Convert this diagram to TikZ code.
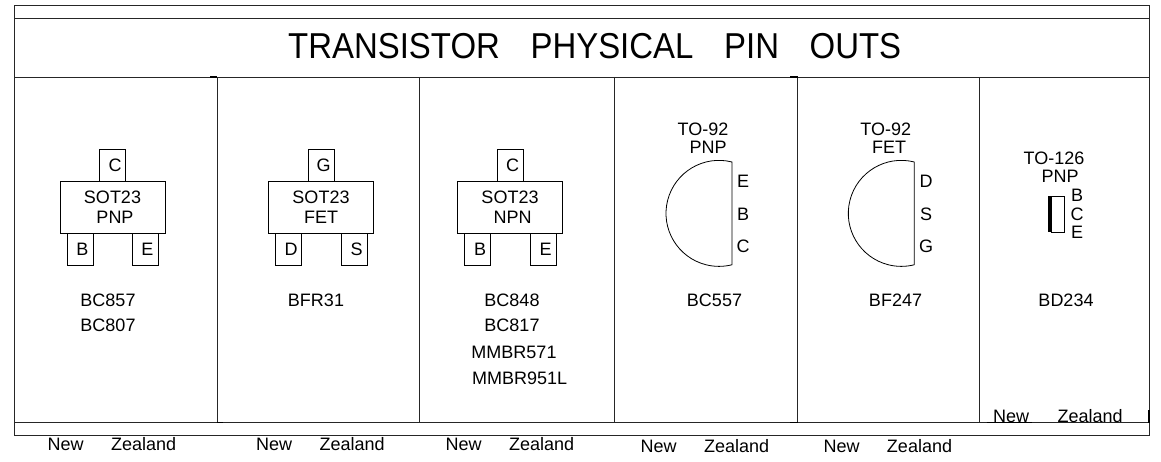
\documentclass[tikz,border=0pt]{standalone}
\usepackage{fontspec}
\setmainfont{Liberation Sans}
\usepackage{xcolor}
\usepackage{tikz}

\tikzset{
  framestyle/.style={line width=0.9pt,black!85},
  bodybox/.style={draw,line width=0.8pt,minimum width=105pt,minimum height=52pt,inner sep=0pt,align=center,font=\fontsize{18}{20}\selectfont},
  pinbox/.style={draw,line width=0.8pt,minimum width=26pt,minimum height=32pt,inner sep=0pt,font=\fontsize{18}{20}\selectfont,execute at begin node=\hspace*{5pt}},
  letterlabel/.style={anchor=base,inner sep=0pt,font=\fontsize{18}{20}\selectfont},
  nzlabel/.style={anchor=base west,inner sep=0pt,font=\fontsize{18}{20}\selectfont},
}

\begin{document}
\begin{tikzpicture}[x=1pt,y=-1pt]
  \useasboundingbox (0,0) rectangle (1161,462);

  % Corners of the outer frame
  \coordinate (TL) at (14.5,5.5);
  \coordinate (TR) at (1149,5.5);
  \coordinate (BL) at (14.5,435.5);
  \coordinate (BR) at (1149,435.5);

  % Draw frame and the horizontal rules
  \draw[framestyle] (TL) -- (TR) -- (BR) -- (BL) -- cycle;
  \draw[framestyle] (14.5,18.5) -- (1149,18.5);
  \draw[framestyle] (14.5,77) -- (1149,77);
  \draw[framestyle] (14.5,422.5) -- (1149,422.5);

  % Column dividers
  \draw[framestyle] (217,77) -- (217,422.5);
  \draw[framestyle] (419,77) -- (419,422.5);
  \draw[framestyle] (614.5,77) -- (614.5,422.5);
  \draw[framestyle] (797.5,77) -- (797.5,422.5);
  \draw[framestyle] (979.5,77) -- (979.5,422.5);

  % Small heavy stubs on the rules
  \draw[line width=1.3pt] (210,77) -- (217,77);
  \draw[line width=1.3pt] (790,77) -- (797.5,77);
  \draw[line width=1.3pt] (217,422.5) -- (223,422.5);
  \draw[line width=1.3pt] (790,422.5) -- (797.5,422.5);
  \draw[line width=1.3pt] (986.5,422.5) -- (1032,422.5);
  \draw[line width=1.3pt] (1149,410) -- (1149,422.5);

  % Title
  \node[anchor=base west,inner sep=0pt,font=\fontsize{36}{40}\selectfont] (title) at (288,58.3) {\scalebox{0.915}[1]{TRANSISTOR\hspace{33.5pt}PHYSICAL\hspace{33.5pt}PIN\hspace{33.5pt}OUTS}};

  % First SOT23
  \node[bodybox] (sotA) at (112.5,207.5) {SOT23\\\hspace*{5pt}PNP};
  \node[pinbox] (sotAc) at (112.5,165) {C};
  \node[pinbox] (sotAb) at (80,249.5) {B};
  \node[pinbox] (sotAe) at (145,249.5) {E};

  % Second SOT23
  \node[bodybox] (sotB) at (321,207.5) {SOT23\\FET};
  \node[pinbox] (sotBg) at (321,165) {G};
  \node[pinbox] (sotBd) at (288.5,249.5) {D};
  \node[pinbox] (sotBs) at (354,249.5) {S};

  % Third SOT23
  \node[bodybox] (sotC) at (510,207.5) {SOT23\\\hspace*{5pt}NPN};
  \node[pinbox] (sotCc) at (510,165) {C};
  \node[pinbox] (sotCb) at (477.5,249.5) {B};
  \node[pinbox] (sotCe) at (543,249.5) {E};

  % TO-92 PNP
  \draw[line width=0.8pt] (732,162) arc[start angle=75.8,end angle=284.2,radius=53pt] -- cycle;
  \node[letterlabel] (pnpName) at (703,135.7) {TO-92};
  \node[letterlabel] (pnpType) at (708,154) {PNP};
  \node[letterlabel] (pnpE) at (743,187.7) {E};
  \node[letterlabel] (pnpB) at (743,220.7) {B};
  \node[letterlabel] (pnpC) at (743,252.7) {C};

  % TO-92 FET
  \draw[line width=0.8pt] (914.3,162) arc[start angle=75.8,end angle=284.2,radius=53pt] -- cycle;
  \node[letterlabel] (fetName) at (885.7,135.7) {TO-92};
  \node[letterlabel] (fetType) at (889,154) {FET};
  \node[letterlabel] (fetD) at (926,187.7) {D};
  \node[letterlabel] (fetS) at (926,220.7) {S};
  \node[letterlabel] (fetG) at (926,252.7) {G};

  % TO-126
  \draw[line width=0.8pt] (1051.7,196) rectangle (1064.3,232.3);
  \fill (1048,196) rectangle (1052,232.3);
  \node[letterlabel] (bigName) at (1054,165) {TO-126};
  \node[letterlabel] (bigType) at (1060,182.3) {PNP};
  \node[letterlabel] (bigB) at (1077,201.7) {B};
  \node[letterlabel] (bigC) at (1077,220.7) {C};
  \node[letterlabel] (bigE) at (1077,239) {E};

  % Part numbers
  \node[letterlabel] (partAa) at (108,306) {BC857};
  \node[letterlabel] (partAb) at (108,331.7) {BC807};
  \node[letterlabel] (partB) at (316,306) {BFR31};
  \node[letterlabel] (partCa) at (512,306) {BC848};
  \node[letterlabel] (partCb) at (512,331.7) {BC817};
  \node[letterlabel] (partCc) at (514,358.3) {MMBR571};
  \node[letterlabel] (partCd) at (519.7,384) {MMBR951L};
  \node[letterlabel] (partD) at (714.5,306) {BC557};
  \node[letterlabel] (partE) at (895.5,306) {BF247};
  \node[letterlabel] (partF) at (1066,306) {BD234};

  % Country labels
  \node[nzlabel] (nzA) at (47.5,450) {New\hspace{27.5pt}Zealand};
  \node[nzlabel] (nzB) at (256,450) {New\hspace{27.5pt}Zealand};
  \node[nzlabel] (nzC) at (445.5,450) {New\hspace{27.5pt}Zealand};
  \node[nzlabel] (nzD) at (640.5,452) {New\hspace{27.5pt}Zealand};
  \node[nzlabel] (nzE) at (823.3,452) {New\hspace{27.5pt}Zealand};
  \node[nzlabel] (nzF) at (993,422.5) {New\hspace{28.5pt}Zealand};

\end{tikzpicture}
\end{document}
